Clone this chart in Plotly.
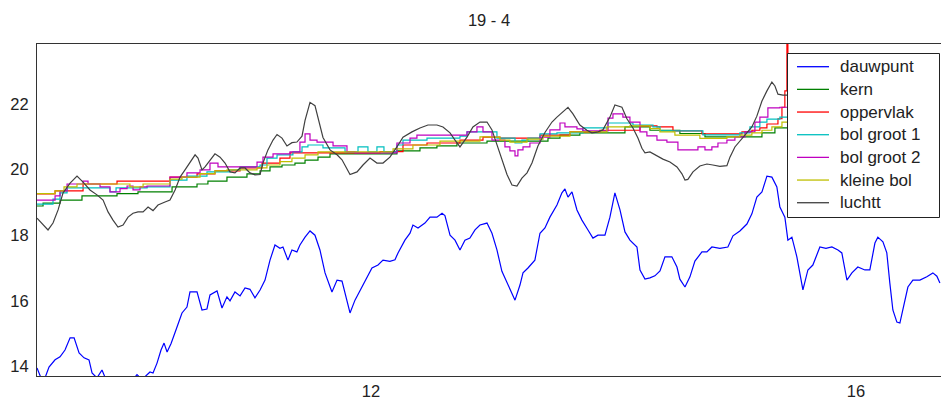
import plotly.graph_objects as go

# Temperatures on 19 April, time in decimal hours.

t_dauwpunt = [9.245, 9.278, 9.311, 9.344, 9.394, 9.435, 9.476, 9.518, 9.551, 9.592,
              9.633, 9.674, 9.699, 9.740, 9.781, 9.814, 9.889, 9.971, 10.037, 10.070,
              10.111, 10.177, 10.202, 10.235, 10.268, 10.293, 10.318, 10.351, 10.400, 10.441,
              10.482, 10.507, 10.565, 10.606, 10.647, 10.672, 10.730, 10.771, 10.812, 10.837,
              10.878, 10.920, 10.961, 11.002, 11.043, 11.085, 11.126, 11.167, 11.208, 11.249,
              11.274, 11.315, 11.348, 11.389, 11.414, 11.456, 11.497, 11.538, 11.579, 11.621,
              11.678, 11.720, 11.761, 11.802, 11.827, 11.868, 11.926, 11.967, 12.008, 12.058,
              12.099, 12.156, 12.198, 12.223, 12.280, 12.322, 12.346, 12.388, 12.445, 12.487,
              12.544, 12.586, 12.610, 12.652, 12.693, 12.734, 12.775, 12.816, 12.858, 12.899,
              12.957, 12.998, 13.039, 13.080, 13.105, 13.146, 13.188, 13.229, 13.254, 13.295,
              13.352, 13.394, 13.435, 13.476, 13.534, 13.575, 13.600, 13.625, 13.658, 13.699,
              13.740, 13.790, 13.831, 13.872, 13.930, 13.971, 14.012, 14.054, 14.095, 14.136,
              14.194, 14.219, 14.260, 14.301, 14.342, 14.384, 14.425, 14.482, 14.524, 14.548,
              14.590, 14.631, 14.672, 14.730, 14.771, 14.812, 14.878, 14.944, 14.986, 15.043,
              15.101, 15.142, 15.183, 15.225, 15.266, 15.307, 15.348, 15.373, 15.414, 15.439,
              15.472, 15.513, 15.563, 15.604, 15.645, 15.703, 15.753, 15.802, 15.852, 15.884,
              15.926, 15.967, 16.016, 16.074, 16.115, 16.157, 16.181, 16.223, 16.255, 16.280,
              16.305, 16.338, 16.363, 16.387, 16.429, 16.470, 16.528, 16.585, 16.635, 16.668,
              16.693]
dauwpunt = [13.95, 13.65, 13.65, 13.98, 14.2, 14.29, 14.5, 14.87, 14.87, 14.41,
            14.26, 14.2, 13.8, 13.65, 13.89, 13.6, 13.5, 13.5, 13.6, 13.75,
            13.6, 13.83, 13.8, 14.1, 14.5, 14.71, 14.44, 14.7, 15.2, 15.63,
            15.81, 16.27, 16.27, 15.72, 15.75, 16.18, 16.3, 15.78, 16.12, 16.0,
            16.27, 16.15, 16.39, 16.35, 16.09, 16.33, 16.63, 17.24, 17.7, 17.6,
            17.64, 17.24, 17.55, 17.49, 17.7, 17.94, 18.13, 18.0, 17.55, 16.85,
            16.27, 16.63, 16.6, 16.02, 15.63, 16.02, 16.42, 16.7, 17.0, 17.09,
            17.24, 17.2, 17.25, 17.46, 17.85, 18.06, 18.31, 18.22, 18.37, 18.55,
            18.55, 18.67, 18.6, 18.0, 17.85, 17.55, 17.85, 17.91, 18.16, 18.31,
            18.37, 18.06, 17.55, 16.9, 16.7, 16.33, 16.02, 16.48, 16.85, 17.0,
            17.24, 18.06, 18.22, 18.55, 18.92, 19.29, 19.41, 19.16, 19.32, 18.77,
            18.46, 18.16, 17.91, 18.0, 18.0, 18.55, 19.29, 18.77, 18.1, 17.85,
            17.64, 16.94, 16.66, 16.7, 16.76, 16.91, 17.34, 17.34, 17.03, 16.66,
            16.42, 16.73, 17.21, 17.49, 17.49, 17.64, 17.6, 17.64, 17.98, 18.13,
            18.34, 18.65, 19.16, 19.32, 19.8, 19.77, 19.47, 18.86, 18.55, 17.85,
            17.94, 17.34, 16.33, 16.94, 17.09, 17.64, 17.6, 17.64, 17.55, 17.46,
            16.63, 16.85, 17.03, 16.94, 16.94, 17.76, 17.94, 17.8, 17.46, 16.54,
            15.72, 15.35, 15.32, 15.72, 16.42, 16.63, 16.63, 16.73, 16.85, 16.75,
            16.54]

t_kern = [9.245, 9.295, 9.435, 9.616, 9.905, 10.078, 10.359, 10.565, 10.655, 10.812,
          10.977, 11.085, 11.167, 11.266, 11.373, 11.456, 11.563, 11.662, 12.214, 12.404,
          12.544, 12.709, 12.957, 13.460, 13.559, 13.723, 14.095, 14.301, 14.548, 14.755,
          15.225, 15.332, 15.456]
kern = [18.89, 18.98, 19.07, 19.2, 19.27, 19.32, 19.47, 19.56, 19.65, 19.77,
        19.87, 19.96, 20.08, 20.14, 20.2, 20.29, 20.38, 20.48, 20.57, 20.66,
        20.72, 20.81, 20.87, 20.96, 21.05, 21.12, 21.3, 21.2, 21.1, 21.0,
        21.12, 21.27, 21.3]

t_oppervlak = [9.245, 9.394, 9.625, 9.905, 10.342, 10.565, 10.713, 10.920, 11.101, 11.249,
               11.332, 12.074, 12.264, 12.462, 12.734, 12.924, 13.064, 13.394, 13.641, 13.889,
               14.219, 14.359, 14.491, 14.730, 15.060, 15.142, 15.208, 15.266, 15.357, 15.390,
               15.414, 15.431, 15.439, 15.500]
oppervlak = [19.26, 19.35, 19.56, 19.65, 19.77, 19.87, 19.96, 20.05, 20.2, 20.35,
             20.51, 20.55, 20.75, 20.81, 20.9, 20.99, 20.96, 21.05, 21.15, 21.2,
             21.33, 21.3, 21.18, 21.09, 21.15, 21.2, 21.27, 21.39, 21.55, 21.9,
             22.4, 24.0, 22.5, 22.5]

t_bol_groot_1 = [9.245, 9.377, 9.435, 9.493, 9.847, 9.897, 10.153, 10.342, 10.482, 10.647,
                 10.837, 10.920, 11.085, 11.142, 11.225, 11.356, 11.431, 11.480, 11.604, 11.786,
                 11.893, 11.975, 12.049, 12.107, 12.214, 12.264, 12.462, 12.734, 12.792, 13.039,
                 13.188, 13.245, 13.295, 13.394, 13.534, 13.748, 13.955, 14.161, 14.326, 14.384,
                 14.738, 15.043, 15.126, 15.208, 15.266, 15.373, 15.456]
bol_groot_1 = [18.95, 19.1, 19.29, 19.44, 19.32, 19.44, 19.47, 19.68, 19.8, 19.93,
               19.99, 20.08, 20.14, 20.35, 20.45, 20.54, 20.69, 20.75, 20.66, 20.54,
               20.69, 20.54, 20.69, 20.54, 20.75, 20.9, 20.96, 21.02, 21.15, 20.96,
               20.81, 20.9, 20.96, 21.09, 21.12, 21.27, 21.42, 21.36, 21.3, 21.18,
               21.06, 21.12, 21.3, 21.45, 21.54, 21.6, 21.65]

t_bol_groot_2 = [9.245, 9.394, 9.435, 9.493, 9.625, 9.666, 9.765, 9.847, 9.930, 9.988,
                 10.037, 10.095, 10.153, 10.342, 10.482, 10.590, 10.672, 10.738, 10.837, 11.060,
                 11.109, 11.192, 11.332, 11.414, 11.456, 11.497, 11.555, 11.687, 11.802, 11.868,
                 12.214, 12.322, 12.379, 12.792, 12.874, 12.924, 12.998, 13.105, 13.146, 13.188,
                 13.212, 13.254, 13.311, 13.394, 13.476, 13.559, 13.600, 13.699, 13.748, 13.955,
                 13.996, 14.078, 14.136, 14.219, 14.276, 14.359, 14.441, 14.532, 14.697, 14.755,
                 14.812, 14.862, 14.936, 15.002, 15.085, 15.167, 15.208, 15.274, 15.373, 15.456]
bol_groot_2 = [19.07, 19.2, 19.35, 19.56, 19.65, 19.56, 19.47, 19.32, 19.42, 19.5,
               19.38, 19.47, 19.5, 19.77, 19.9, 19.99, 20.2, 20.08, 20.08, 20.23,
               20.38, 20.48, 20.54, 20.84, 21.09, 20.9, 20.84, 20.72, 20.54, 20.51,
               20.81, 20.96, 21.05, 21.15, 21.3, 21.15, 20.9, 20.69, 20.57, 20.42,
               20.6, 20.69, 20.81, 20.99, 21.21, 21.42, 21.3, 21.24, 21.18, 21.57,
               21.7, 21.6, 21.45, 21.15, 21.03, 20.9, 20.84, 20.6, 20.69, 20.6,
               20.69, 20.81, 20.9, 21.0, 21.15, 21.45, 21.6, 21.88, 21.9, 21.95]

t_kleine_bol = [9.245, 9.394, 9.468, 9.575, 10.012, 10.120, 10.342, 10.441, 10.590, 10.713,
                10.812, 11.060, 11.142, 11.249, 11.348, 11.456, 11.563, 12.182, 12.346, 12.569,
                12.899, 12.981, 13.064, 13.146, 13.287, 13.419, 13.641, 13.946, 14.136, 14.301,
                14.384, 14.507, 14.713, 14.936, 15.043, 15.142, 15.225, 15.307, 15.390, 15.456]
kleine_bol = [19.27, 19.35, 19.47, 19.56, 19.47, 19.56, 19.71, 19.77, 19.88, 19.96,
              19.99, 20.05, 20.14, 20.24, 20.35, 20.45, 20.54, 20.63, 20.75, 20.87,
              21.0, 20.99, 20.9, 20.84, 20.93, 21.02, 21.15, 21.3, 21.33, 21.25,
              21.15, 21.05, 20.95, 21.0, 21.05, 21.12, 21.2, 21.3, 21.45, 21.6]

t_luchtt = [9.245, 9.287, 9.336, 9.377, 9.419, 9.460, 9.518, 9.575, 9.625, 9.682,
            9.740, 9.790, 9.831, 9.872, 9.913, 9.955, 9.996, 10.037, 10.078, 10.120,
            10.161, 10.202, 10.243, 10.301, 10.342, 10.384, 10.425, 10.466, 10.507, 10.549,
            10.573, 10.606, 10.631, 10.672, 10.713, 10.755, 10.796, 10.837, 10.878, 10.920,
            10.961, 11.002, 11.043, 11.085, 11.109, 11.150, 11.192, 11.225, 11.266, 11.307,
            11.348, 11.389, 11.431, 11.456, 11.497, 11.538, 11.579, 11.604, 11.662, 11.720,
            11.761, 11.786, 11.827, 11.885, 11.934, 11.992, 12.049, 12.099, 12.156, 12.214,
            12.264, 12.338, 12.404, 12.470, 12.544, 12.594, 12.652, 12.693, 12.734, 12.792,
            12.841, 12.899, 12.957, 12.998, 13.039, 13.080, 13.122, 13.163, 13.204, 13.245,
            13.287, 13.328, 13.377, 13.435, 13.493, 13.534, 13.583, 13.625, 13.666, 13.723,
            13.781, 13.822, 13.864, 13.913, 13.971, 14.012, 14.070, 14.111, 14.161, 14.202,
            14.235, 14.260, 14.301, 14.359, 14.408, 14.466, 14.524, 14.565, 14.590, 14.614,
            14.656, 14.713, 14.771, 14.820, 14.878, 14.936, 14.961, 15.002, 15.043, 15.101,
            15.142, 15.183, 15.225, 15.266, 15.307, 15.332, 15.357, 15.398, 15.456]
luchtt = [18.52, 18.35, 18.16, 18.37, 18.77, 19.29, 19.59, 19.8, 19.62, 19.38,
          19.23, 19.07, 18.71, 18.46, 18.25, 18.31, 18.55, 18.67, 18.71, 18.71,
          18.86, 18.75, 18.92, 19.01, 19.07, 19.38, 19.77, 19.99, 20.2, 20.45,
          20.35, 19.99, 20.08, 20.3, 20.48, 20.38, 20.2, 19.93, 19.9, 20.05,
          20.05, 19.9, 19.84, 19.85, 20.2, 20.6, 20.9, 21.07, 20.96, 20.72,
          20.82, 20.84, 21.02, 21.5, 22.05, 21.95, 21.33, 20.98, 20.6, 20.45,
          20.3, 20.14, 19.85, 19.93, 20.14, 20.35, 20.2, 20.2, 20.38, 20.69,
          20.99, 21.15, 21.27, 21.36, 21.36, 21.3, 21.12, 20.9, 20.69, 20.99,
          21.3, 21.45, 21.45, 21.21, 20.75, 20.25, 19.85, 19.53, 19.5, 19.74,
          19.9, 20.2, 20.72, 21.13, 21.45, 21.6, 21.76, 21.9, 21.7, 21.36,
          21.2, 21.12, 21.14, 21.21, 21.6, 21.97, 21.9, 21.55, 21.27, 20.96,
          20.65, 20.51, 20.54, 20.42, 20.32, 20.23, 20.08, 19.87, 19.68, 19.7,
          19.93, 20.11, 20.17, 20.14, 20.1, 20.12, 20.38, 20.69, 20.87, 21.09,
          21.3, 21.63, 22.09, 22.4, 22.67, 22.55, 22.3, 22.27, 22.27]

x_ticks = [12, 16]
x_tick_labels = ["12", "16"]
y_ticks = [14, 16, 18, 20, 22]
y_tick_labels = ["14", "16", "18", "20", "22"]

series = [
    ("dauwpunt", t_dauwpunt, dauwpunt, "#0000FF", "linear"),
    ("kern", t_kern, kern, "#008000", "hv"),
    ("oppervlak", t_oppervlak, oppervlak, "#FF0000", "hv"),
    ("bol groot 1", t_bol_groot_1, bol_groot_1, "#00BFBF", "hv"),
    ("bol groot 2", t_bol_groot_2, bol_groot_2, "#BF00BF", "hv"),
    ("kleine bol", t_kleine_bol, kleine_bol, "#BFBF00", "hv"),
    ("luchtt", t_luchtt, luchtt, "#404040", "linear"),
]

FONT = "Liberation Sans, Arial, sans-serif"
TEXT = "#222222"

W, H = 941, 400
M_L, M_R, M_T, M_B = 37, 0, 44, 24
PLOT_W = W - M_L - M_R
PLOT_H = H - M_T - M_B


def px_x(px):
    """Horizontal pixel position -> paper fraction of the plot area."""
    return (px - M_L) / PLOT_W


def px_y(py):
    """Vertical pixel position (from top) -> paper fraction of the plot area."""
    return (H - M_B - py) / PLOT_H


fig = go.Figure()
for name, t, v, color, shape in series:
    fig.add_trace(go.Scatter(
        x=t, y=v, mode="lines", name=name,
        line=dict(color=color, width=1.2, shape=shape),
        hoverinfo="skip", showlegend=False,
    ))

# Boxed legend in the upper right corner, opaque over the curves.
LEG_LEFT, LEG_RIGHT, LEG_TOP, LEG_BOTTOM = 787.5, 939.5, 53.5, 217.5
ROW0, ROW_STEP = 66.7, 22.67
shapes = [dict(type="rect", xref="paper", yref="paper", layer="above",
               x0=px_x(LEG_LEFT), x1=px_x(LEG_RIGHT),
               y0=px_y(LEG_BOTTOM), y1=px_y(LEG_TOP),
               fillcolor="white", line=dict(color=TEXT, width=1))]
annotations = []
for i, (name, _, _, color, _) in enumerate(series):
    row = ROW0 + i * ROW_STEP
    shapes.append(dict(type="line", xref="paper", yref="paper", layer="above",
                       x0=px_x(797), x1=px_x(829), y0=px_y(row), y1=px_y(row),
                       line=dict(color=color, width=1.3)))
    annotations.append(dict(text=name, xref="paper", yref="paper",
                            x=px_x(838), y=px_y(row), xanchor="left", yanchor="middle",
                            showarrow=False,
                            font=dict(family=FONT, size=17, color=TEXT)))

fig.update_layout(
    width=W, height=H,
    margin=dict(l=M_L, r=M_R, t=M_T, b=M_B, pad=0),
    paper_bgcolor="white", plot_bgcolor="white",
    font=dict(family=FONT, size=16.5, color=TEXT),
    title=dict(text="19 - 4", x=0.5, xref="paper", xanchor="center",
               y=0.95, yref="container", yanchor="middle",
               font=dict(family=FONT, size=16.5, color=TEXT)),
    showlegend=False,
    shapes=shapes,
    annotations=annotations,
)

fig.update_xaxes(
    range=[9.245, 16.702], tickmode="array", tickvals=x_ticks, ticktext=x_tick_labels,
    showgrid=False, zeroline=False, ticks="",
    showline=True, linecolor="#333333", linewidth=1, mirror=True,
)
fig.update_yaxes(
    range=[13.707, 23.829], tickmode="array", tickvals=y_ticks, ticktext=y_tick_labels,
    showgrid=False, zeroline=False, ticks="",
    showline=True, linecolor="#333333", linewidth=1, mirror=False,
    ticklabelstandoff=4,
)

fig.write_html("out.html")
